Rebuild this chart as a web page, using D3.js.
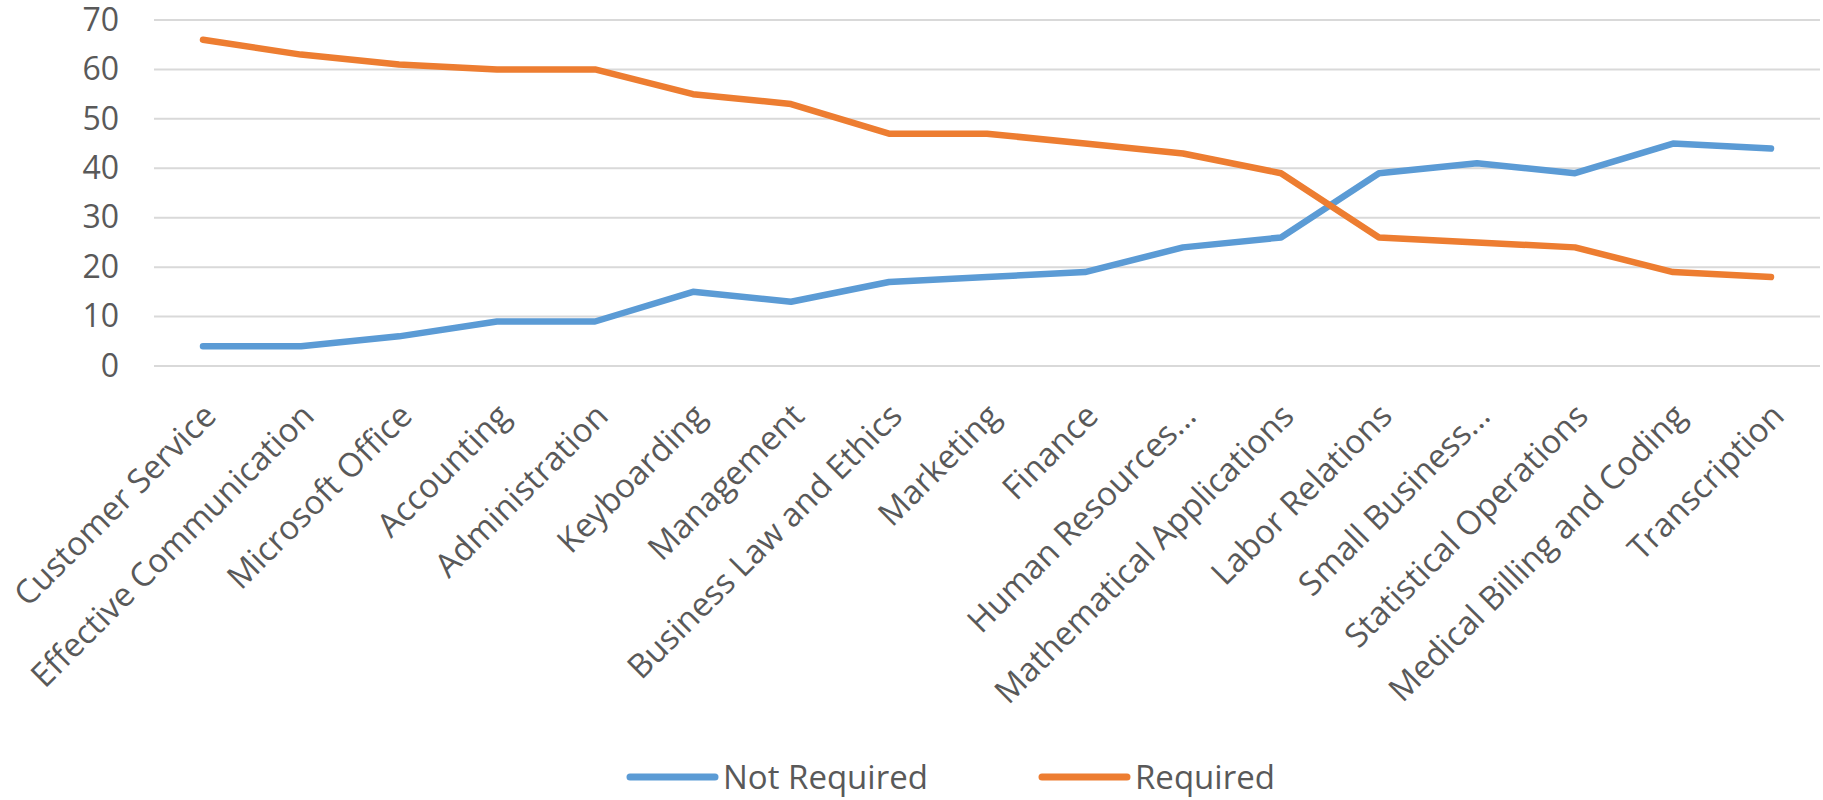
<!DOCTYPE html>
<html>
<head>
<meta charset="utf-8">
<script src="https://cdn.jsdelivr.net/npm/d3@7"></script>
<style>
  body { margin: 0; background: #fff; }
  text { font-family: "Open Sans", sans-serif; fill: #595959; }
</style>
</head>
<body>
<div id="chart"></div>
<script>
let skills = ["Customer Service", "Effective Communication", "Microsoft Office", "Accounting",
    "Administration", "Keyboarding", "Management", "Business Law and Ethics", "Marketing",
    "Finance", "Human Resources...", "Mathematical Applications", "Labor Relations",
    "Small Business...", "Statistical Operations", "Medical Billing and Coding", "Transcription"];
let notRequired = [4, 4, 6, 9, 9, 15, 13, 17, 18, 19, 24, 26, 39, 41, 39, 45, 44];
let required = [66, 63, 61, 60, 60, 55, 53, 47, 47, 45, 43, 39, 26, 25, 24, 19, 18];
let yTicks = [0, 10, 20, 30, 40, 50, 60, 70];
let seriesNames = ["Not Required", "Required"];
let colors = ["#5b9bd5", "#ed7d31"];

let width = 1823, height = 800;
let margin = { top: 20, right: 3, bottom: 434, left: 154 };
let plotW = width - margin.left - margin.right;
let plotH = height - margin.top - margin.bottom;

let svg = d3.select("#chart").append("svg")
    .attr("width", width)
    .attr("height", height);

let g = svg.append("g")
    .attr("transform", "translate(" + margin.left + "," + margin.top + ")");

let x = d3.scaleBand().domain(skills).range([0, plotW]);
let y = d3.scaleLinear().domain([0, 70]).range([plotH, 0]);

// gridlines
g.selectAll(".grid")
    .data(yTicks)
    .enter().append("line")
    .attr("x1", 0).attr("x2", plotW)
    .attr("y1", d => y(d)).attr("y2", d => y(d))
    .style("stroke", "#d9d9d9")
    .style("stroke-width", 2);

// y axis labels
let yAxis = d3.axisLeft(y).tickValues(yTicks).tickSize(0).tickPadding(35);
g.append("g").call(yAxis)
    .call(a => a.select(".domain").remove())
    .selectAll("text")
    .style("font-size", "32px")
    .style("fill", "#595959");

// x axis labels
let xAxis = d3.axisBottom(x).tickSize(0).tickPadding(0);
g.append("g")
    .attr("transform", "translate(0," + plotH + ")")
    .call(xAxis)
    .call(a => a.select(".domain").remove())
    .selectAll("text")
    .style("font-size", "33px")
    .style("fill", "#595959")
    .style("text-anchor", "end")
    .attr("dy", null)
    .attr("y", 0)
    .attr("transform", "translate(15,52) rotate(-45)");

// lines
let line = d3.line()
    .x((d, i) => x(skills[i]) + x.bandwidth() / 2)
    .y(d => y(d));

[notRequired, required].forEach((s, k) => {
    g.append("path")
        .datum(s)
        .attr("d", line)
        .style("fill", "none")
        .style("stroke", colors[k])
        .style("stroke-width", 6.5)
        .style("stroke-linecap", "round")
        .style("stroke-linejoin", "round");
});

// legend
let legendX = [630, 1042];
let legend = svg.selectAll(".legend")
    .data(seriesNames)
    .enter().append("g")
    .attr("transform", (d, i) => "translate(" + legendX[i] + ",777)");
legend.append("line")
    .attr("x1", 0).attr("x2", 85)
    .attr("y1", 0).attr("y2", 0)
    .style("stroke", (d, i) => colors[i])
    .style("stroke-width", 7)
    .style("stroke-linecap", "round");
legend.append("text")
    .attr("x", 93)
    .attr("y", 12)
    .style("font-size", "33px")
    .text(d => d);
</script>
</body>
</html>
